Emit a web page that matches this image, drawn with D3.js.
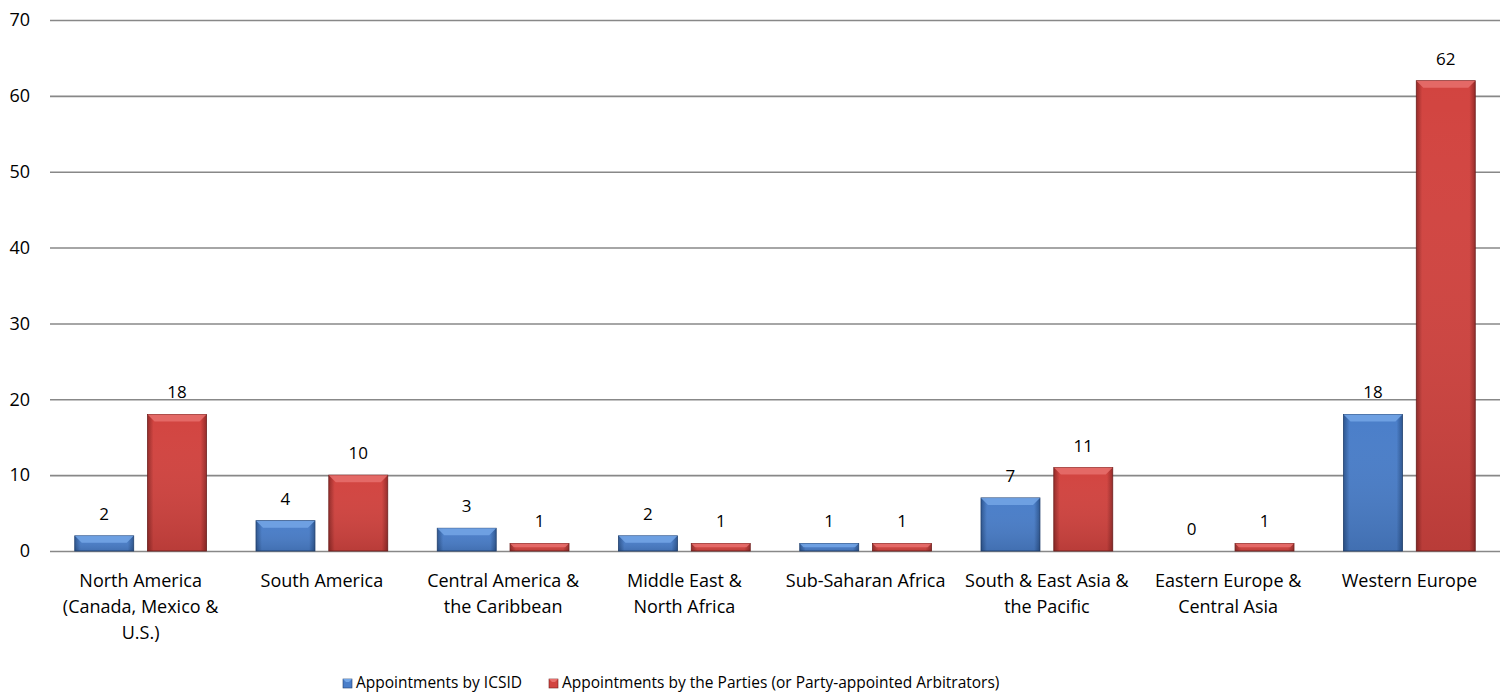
<!DOCTYPE html>
<html><head><meta charset="utf-8">
<script src="https://cdn.jsdelivr.net/npm/d3@7"></script>
<style>body{margin:0;background:#fff;} svg{display:block;} text{font-family:"Open Sans",sans-serif;fill:#000;}</style>
</head><body><svg id="c" width="1507" height="694"></svg>
<script>
const categories = [
  ["North America","(Canada, Mexico &","U.S.)"],
  ["South America"],
  ["Central America &","the Caribbean"],
  ["Middle East &","North Africa"],
  ["Sub-Saharan Africa"],
  ["South & East Asia &","the Pacific"],
  ["Eastern Europe &","Central Asia"],
  ["Western Europe"]
];
const seriesNames = ["Appointments by ICSID","Appointments by the Parties (or Party-appointed Arbitrators)"];
const icsid = [2,4,3,2,1,7,0,18];
const parties = [18,10,1,1,1,11,1,62];
const yTicks = [0,10,20,30,40,50,60,70];

const svg = d3.select("#c");
const defs = svg.append("defs");
const m = {left:50,right:7,top:20,bottom:143};
const W = 1507, H = 694;
const x0 = d3.scaleBand().domain(d3.range(categories.length)).range([m.left, W-m.right]).paddingInner(0).paddingOuter(0);
const x1 = d3.scaleBand().domain([0,1]).range([0,x0.bandwidth()]).paddingInner(0.19).paddingOuter(0.34);
const y = d3.scaleLinear().domain([0,70]).range([H-m.bottom, m.top]);

const colors = [
  {main:"#4a7ec9", light:"#74a6e6", dark:"#2c5590", edge:"#1f3f6e"},
  {main:"#d24440", light:"#e8706d", dark:"#952a28", edge:"#6e1e1c"}
];
colors.forEach((c,i)=>{
  const g = defs.append("linearGradient").attr("id","h"+i).attr("x1","0").attr("x2","1");
  g.append("stop").attr("offset","0").attr("stop-color",c.dark);
  g.append("stop").attr("offset","0.1").attr("stop-color",c.main);
  g.append("stop").attr("offset","0.9").attr("stop-color",c.main);
  g.append("stop").attr("offset","1").attr("stop-color",c.dark);
  const v = defs.append("linearGradient").attr("id","v"+i).attr("x1","0").attr("x2","0").attr("y1","0").attr("y2","1");
  v.append("stop").attr("offset","0").attr("stop-color","#fff").attr("stop-opacity",0.0);
  v.append("stop").attr("offset","1").attr("stop-color","#000").attr("stop-opacity",0.12);
});

// gridlines
const gAxis = svg.append("g").attr("transform",`translate(${m.left},0)`)
  .call(d3.axisLeft(y).tickValues(yTicks).tickSize(-(W-m.left-m.right)).tickPadding(20).tickFormat(d3.format("d")));
gAxis.select(".domain").remove();
gAxis.selectAll(".tick line").attr("stroke","#888").attr("stroke-width",1.6);
gAxis.selectAll(".tick text").attr("font-size",18).attr("font-family","Open Sans").attr("fill","#000");

const data = [icsid, parties];
const groups = svg.append("g").selectAll("g").data(categories).join("g")
  .attr("transform",(d,i)=>`translate(${x0(i)},0)`);

groups.each(function(cat,i){
  const g = d3.select(this);
  [0,1].forEach(s=>{
    const v = data[s][i];
    const bx = x1(s), bw = x1.bandwidth();
    const by = y(v), bh = y(0)-y(v);
    const c = colors[s];
    if (bh > 0) {
      g.append("rect").attr("x",bx).attr("y",by).attr("width",bw).attr("height",bh)
        .attr("fill",`url(#h${s})`).attr("stroke",c.edge).attr("stroke-width",0.8);
      g.append("rect").attr("x",bx).attr("y",by).attr("width",bw).attr("height",bh)
        .attr("fill",`url(#v${s})`);
      const b = Math.min(7, bh/2);
      g.append("path").attr("d",`M${bx},${by}L${bx+bw},${by}L${bx+bw-b},${by+b}L${bx+b},${by+b}Z`)
        .attr("fill",c.light).attr("opacity",0.85);
    }
    g.append("text").attr("x",bx+bw/2).attr("y",by-16).attr("text-anchor","middle")
      .attr("font-size",17).text(v);
  });
  const t = g.append("text").attr("x",x0.bandwidth()/2).attr("y",y(0)+36).attr("text-anchor","middle").attr("font-size",18);
  cat.forEach((line,k)=>t.append("tspan").attr("x",x0.bandwidth()/2).attr("dy",k===0?0:26).text(line));
});

// legend
const leg = svg.append("g");
const legX = [343, 549];
seriesNames.forEach((n,s)=>{
  const c = colors[s];
  const lx = legX[s];
  leg.append("rect").attr("x",lx).attr("y",679).attr("width",9).attr("height",9).attr("fill",c.main).attr("stroke",c.edge).attr("stroke-width",0.6);
  leg.append("path").attr("d",`M${lx},679L${lx+9},679L${lx+6},682L${lx+3},682Z`).attr("fill",c.light);
  leg.append("text").attr("x",lx+13).attr("y",688).attr("font-size",15.5).text(n);
});
</script></body></html>
